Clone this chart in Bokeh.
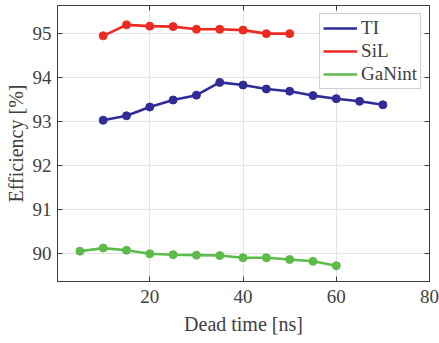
from bokeh.plotting import figure
from bokeh.models import LinearAxis, FixedTicker, Range1d, Legend, LegendItem
from bokeh.embed import file_html
from bokeh.resources import INLINE

# Dead time sweeps [ns] and measured efficiency [%]
ti_dead = [10, 15, 20, 25, 30, 35, 40, 45, 50, 55, 60, 65, 70]
ti_eff = [93.03, 93.13, 93.33, 93.49, 93.60, 93.89, 93.83, 93.74, 93.69, 93.59, 93.52, 93.46, 93.38]

sil_dead = [10, 15, 20, 25, 30, 35, 40, 45, 50]
sil_eff = [94.95, 95.20, 95.17, 95.16, 95.10, 95.10, 95.08, 95.00, 95.00]

gan_dead = [5, 10, 15, 20, 25, 30, 35, 40, 45, 50, 55, 60]
gan_eff = [90.05, 90.12, 90.07, 89.99, 89.97, 89.96, 89.95, 89.90, 89.90, 89.86, 89.82, 89.72]

x_ticks = [20, 40, 60, 80]
y_ticks = [90, 91, 92, 93, 94, 95]

FONT = "Liberation Serif"
TEXT = "#404040"
FRAME = "#3c3c3c"

p = figure(width=439, height=343, output_backend="svg", toolbar_location=None,
           x_range=Range1d(0.2, 80), y_range=Range1d(89.36, 95.64),
           min_border_left=57, min_border_right=10, min_border_top=5, min_border_bottom=62,
           x_axis_label="Dead time [ns]", y_axis_label="Efficiency [%]")
p.background_fill_color = "white"
p.border_fill_color = "white"
p.outline_line_color = FRAME
p.outline_line_width = 1

for g in (p.xgrid[0], p.ygrid[0]):
    g.grid_line_color = "#e3e3e3"
    g.grid_line_width = 1
p.xgrid[0].ticker = FixedTicker(ticks=x_ticks)
p.ygrid[0].ticker = FixedTicker(ticks=y_ticks)

def style_axis(ax, ticks):
    ax.ticker = FixedTicker(ticks=ticks)
    ax.axis_line_color = FRAME
    ax.major_tick_line_color = FRAME
    ax.major_tick_in = 5
    ax.major_tick_out = 0
    ax.minor_tick_line_color = None
    ax.major_label_text_font = FONT
    ax.major_label_text_color = TEXT
    ax.major_label_text_font_size = "19px"
    ax.axis_label_text_font = FONT
    ax.axis_label_text_font_style = "normal"
    ax.axis_label_text_color = TEXT
    ax.axis_label_text_font_size = "20px"

style_axis(p.xaxis[0], x_ticks)
style_axis(p.yaxis[0], y_ticks)
p.xaxis[0].major_label_standoff = 8
p.xaxis[0].axis_label_standoff = 7
p.yaxis[0].major_label_standoff = 6
p.yaxis[0].axis_label_standoff = 3

# tick-only axes on the top and right edges of the box
top_ax = LinearAxis()
style_axis(top_ax, x_ticks)
top_ax.major_label_overrides = {t: "" for t in x_ticks}
top_ax.major_label_standoff = 0
right_ax = LinearAxis()
style_axis(right_ax, y_ticks)
right_ax.major_label_overrides = {t: "" for t in y_ticks}
right_ax.major_label_standoff = 0
p.add_layout(top_ax, "above")
p.add_layout(right_ax, "right")

series = [
    ("TI", ti_dead, ti_eff, "#302b96"),
    ("SiL", sil_dead, sil_eff, "#ec2a22"),
    ("GaNint", gan_dead, gan_eff, "#5dbb4a"),
]

items = []
for name, xs, ys, color in series:
    ln = p.line(xs, ys, line_color=color, line_width=2.6)
    p.scatter(xs, ys, size=8, fill_color=color, line_color=color)
    items.append(LegendItem(label=name, renderers=[ln]))

legend = Legend(items=items, location="top_right")
legend.margin = 8
legend.padding = 3
legend.spacing = 1
legend.glyph_width = 34
legend.glyph_height = 20
legend.label_height = 20
legend.label_standoff = 4
legend.label_text_font = FONT
legend.label_text_font_size = "19px"
legend.label_text_color = TEXT
legend.border_line_color = "#a0a0a0"
legend.border_line_width = 1
legend.background_fill_color = "white"
legend.background_fill_alpha = 1
p.add_layout(legend, "center")

open("out.html", "w").write(file_html(p, INLINE))
